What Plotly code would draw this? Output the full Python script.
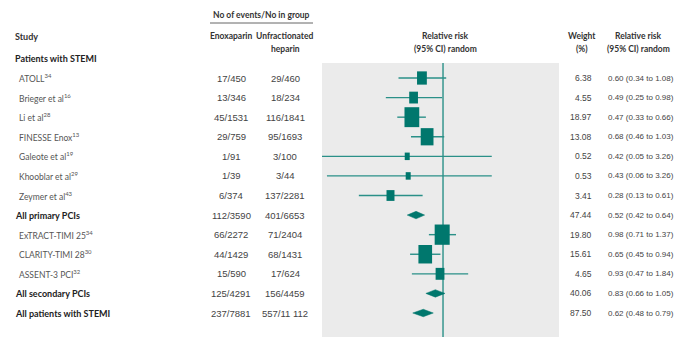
import math
import plotly.graph_objects as go

# Forest plot: enoxaparin vs unfractionated heparin in STEMI
studies = ["ATOLL", "Brieger et al", "Li et al", "FINESSE Enox", "Galeote et al",
           "Khooblar et al", "Zeymer et al", "All primary PCIs", "ExTRACT-TIMI 25",
           "CLARITY-TIMI 28", "ASSENT-3 PCI", "All secondary PCIs", "All patients with STEMI"]
refs = ["34", "16", "28", "13", "19", "29", "43", "", "34", "30", "32", "", ""]
is_total = [False, False, False, False, False, False, False, True, False, False, False, True, True]

enox_events = [17, 13, 45, 29, 1, 1, 6, 112, 66, 44, 15, 125, 237]
enox_total = [450, 346, 1531, 759, 91, 39, 374, 3590, 2272, 1429, 590, 4291, 7881]
ufh_events = [29, 18, 116, 95, 3, 3, 137, 401, 71, 68, 17, 156, 557]
ufh_total = [460, 234, 1841, 1693, 100, 44, 2281, 6653, 2404, 1431, 624, 4459, 11112]

weights = [6.38, 4.55, 18.97, 13.08, 0.52, 0.53, 3.41, 47.44, 19.80, 15.61, 4.65, 40.06, 87.50]
rr = [0.60, 0.49, 0.47, 0.68, 0.42, 0.43, 0.28, 0.52, 0.98, 0.65, 0.93, 0.83, 0.62]
rr_lo = [0.34, 0.25, 0.33, 0.46, 0.05, 0.06, 0.13, 0.42, 0.71, 0.45, 0.47, 0.66, 0.48]
rr_hi = [1.08, 0.98, 0.66, 1.03, 3.26, 3.26, 0.61, 0.64, 1.37, 0.94, 1.84, 1.05, 0.79]

TEAL = "#00776d"
LINE = "#2a9088"
PANEL = "#ebebeb"
LABEL_FONT = "Lato, Liberation Sans, sans-serif"
NUM_FONT = "Liberation Sans, Arial, sans-serif"
W, H = 676, 337

def fmt_n(n):
    # thousands separated by a space only for five-digit numbers and above
    return f"{n:,}".replace(",", " ") if n >= 10000 else str(n)

fig = go.Figure()

# confidence interval lines for individual studies (log scale in log10 units)
cx, cy = [], []
for i in range(len(studies)):
    if not is_total[i]:
        cx += [math.log10(rr_lo[i]), math.log10(rr_hi[i]), None]
        cy += [i, i, None]
fig.add_trace(go.Scatter(x=cx, y=cy, mode="lines", line=dict(color=LINE, width=1.4),
                         hoverinfo="skip", showlegend=False))

# pooled estimates as diamonds
dx, dy = [], []
for i in range(len(studies)):
    if is_total[i]:
        a, m, b = math.log10(rr_lo[i]), math.log10(rr[i]), math.log10(rr_hi[i])
        dx += [a, m, b, m, a, None]
        dy += [i, i - 0.19, i, i + 0.19, i, None]
fig.add_trace(go.Scatter(x=dx, y=dy, mode="lines", fill="toself", fillcolor=TEAL,
                         line=dict(color=TEAL, width=0.5), hoverinfo="skip", showlegend=False))

shapes = []
# shaded plotting panel and line of no effect
shapes.append(dict(type="rect", xref="x domain", yref="y", x0=0, x1=1, y0=-0.77, y1=13.4,
                   fillcolor=PANEL, line=dict(width=0), layer="below"))
shapes.append(dict(type="line", xref="x", yref="y", x0=0, x1=0, y0=-0.77, y1=13.4,
                   line=dict(color=LINE, width=1.4), layer="below"))
# study boxes sized by weight
for i in range(len(studies)):
    if not is_total[i]:
        bw = max(5.0, 3 + 2.7 * math.sqrt(weights[i]))
        bh = max(7.5, bw * 1.35)
        shapes.append(dict(type="rect", xref="x", yref="y",
                           xsizemode="pixel", ysizemode="pixel",
                           xanchor=math.log10(rr[i]), yanchor=i,
                           x0=-bw / 2, x1=bw / 2, y0=-bh / 2, y1=bh / 2,
                           fillcolor=TEAL, line=dict(width=0), layer="above"))
# rule under the events header
shapes.append(dict(type="line", xref="paper", yref="paper", x0=210 / W, x1=313 / W,
                   y0=1 - 23 / H, y1=1 - 23 / H, line=dict(color="#666", width=1)))

ann = []

def txt(x, y, s, size=9, bold=False, color="#444", anchor="left", family=LABEL_FONT):
    ann.append(dict(xref="paper", yref="y", x=x / W, y=y, text=f"<b>{s}</b>" if bold else s,
                    showarrow=False, xanchor=anchor, yanchor="middle",
                    font=dict(family=family, size=size, color=color)))

# row index that sits at a given pixel height
row_at = lambda px: (px - 78) / 19.583

# headers
HS = 8.5
txt(13, row_at(36), "Study", 9, True, "#333")
txt(261, row_at(15), "No of events/No in group", HS, True, "#333", "center")
txt(231, row_at(36), "Enoxaparin", HS, True, "#333", "center")
txt(285, row_at(36), "Unfractionated", HS, True, "#333", "center")
txt(285, row_at(49), "heparin", HS, True, "#333", "center")
txt(445, row_at(36), "Relative risk", HS, True, "#333", "center")
txt(445, row_at(49), "(95% CI) random", HS, True, "#333", "center")
txt(582, row_at(36), "Weight", HS, True, "#333", "center")
txt(582, row_at(49), "(%)", HS, True, "#333", "center")
txt(638, row_at(36), "Relative risk", HS, True, "#333", "center")
txt(638, row_at(49), "(95% CI) random", HS, True, "#333", "center")
txt(13, -1, "Patients with STEMI", 9, True, "#222")

for i, name in enumerate(studies):
    if is_total[i]:
        txt(13, i, name, 9, True, "#222")
    else:
        label = name + (f"<sup>{refs[i]}</sup>" if refs[i] else "")
        txt(17, i, label, 8.5, False, "#555")
    txt(231, i, f"{enox_events[i]}/{fmt_n(enox_total[i])}", 9.5, False, "#444", "center", NUM_FONT)
    txt(285, i, f"{ufh_events[i]}/{fmt_n(ufh_total[i])}", 9.5, False, "#444", "center", NUM_FONT)
    txt(594, i, f"{weights[i]:.2f}", 8.5, False, "#444", "right", NUM_FONT)
    txt(606, i, f"{rr[i]:.2f} ({rr_lo[i]:.2f} to {rr_hi[i]:.2f})", 8, False, "#444", "left", NUM_FONT)

fig.update_layout(
    width=W, height=H, margin=dict(l=0, r=0, t=0, b=0),
    paper_bgcolor="white", plot_bgcolor="white",
    xaxis=dict(domain=[322 / W, 559 / W], range=[-1.274, 1.221], visible=False, fixedrange=True),
    yaxis=dict(domain=[0, 1], range=[row_at(H), row_at(0)], visible=False, fixedrange=True),
    shapes=shapes, annotations=ann, showlegend=False,
)

fig.write_html("out.html")
